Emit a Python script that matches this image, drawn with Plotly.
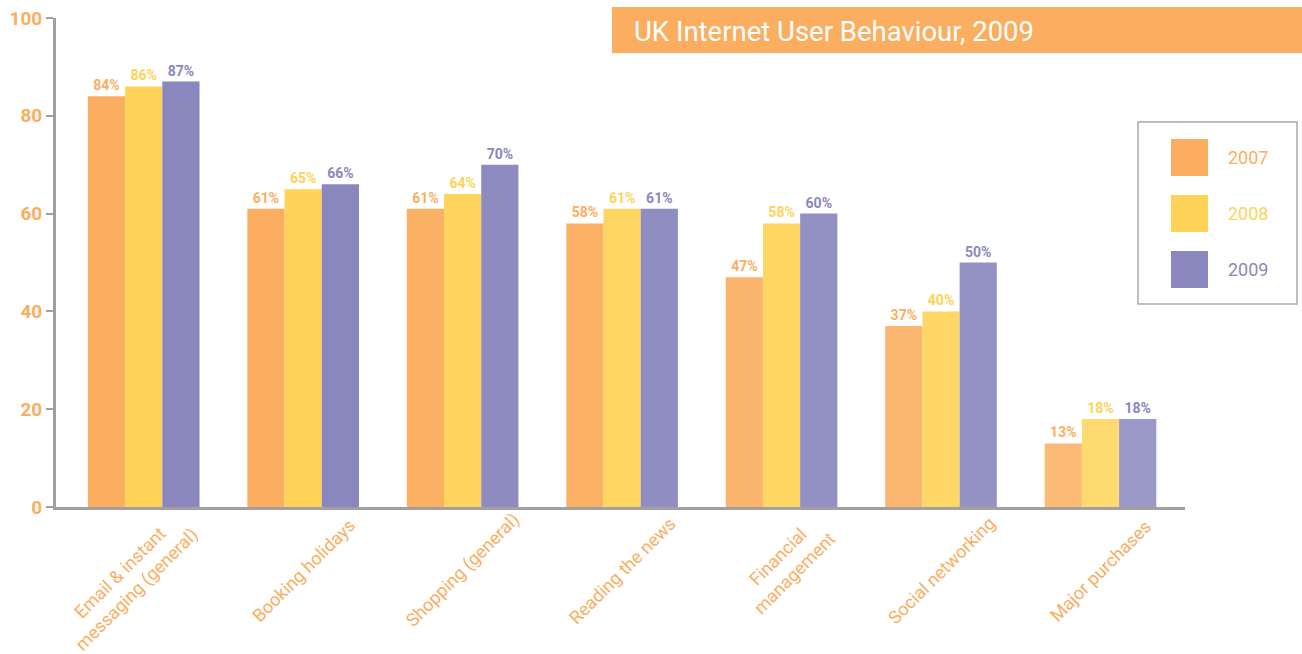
import plotly.graph_objects as go

categories = ["Email & instant<br>messaging (general)", "Booking holidays", "Shopping (general)",
              "Reading the news", "Financial<br>management", "Social networking", "Major purchases"]
years = ["2007", "2008", "2009"]
v2007 = [84, 61, 61, 58, 47, 37, 13]
v2008 = [86, 65, 64, 61, 58, 40, 18]
v2009 = [87, 66, 70, 61, 60, 50, 18]
colors = ["#FBAE5F", "#FED357", "#8A87BE"]
fade = [1.0, 1.0, 0.97, 0.95, 0.92, 0.9, 0.85]

FONT = "Roboto"
fig = go.Figure()
for name, vals, col in zip(years, [v2007, v2008, v2009], colors):
    fig.add_trace(go.Bar(
        x=list(range(len(categories))), y=vals, name=name,
        marker=dict(color=col, opacity=fade, line=dict(width=0)),
        texttemplate="%{y}%", textposition="outside", cliponaxis=False,
        textfont=dict(family=FONT, size=14, color=col, weight="bold"),
    ))

fig.update_layout(
    width=1302, height=654,
    margin=dict(l=56, r=117, t=18, b=147),
    plot_bgcolor="white", paper_bgcolor="white",
    barmode="group", bargap=0.30, bargroupgap=0,
    showlegend=False,
    xaxis=dict(range=[-0.55, 6.53], tickmode="array", tickvals=list(range(len(categories))),
               showticklabels=False, showgrid=False, zeroline=False,
               showline=True, linecolor="#A0A0A0", linewidth=3, ticks="", automargin=False),
    yaxis=dict(range=[0, 100], tickvals=[0, 20, 40, 60, 80, 100], showgrid=False, zeroline=False,
               showline=True, linecolor="#A0A0A0", linewidth=3, ticks="outside", ticklen=7,
               tickcolor="#A0A0A0", tickwidth=2, automargin=False,
               tickfont=dict(family=FONT, size=19, color="#FBAE5F", weight="bold")),
)

# Category labels, rotated and centred under each group
for i, cat in enumerate(categories):
    multi = "<br>" in cat
    fig.add_annotation(text=cat, xref="x", yref="paper", x=i, y=0,
                       xshift=-16 if i == 0 else (4 if multi else 0),
                       yshift=-(74 if i == 0 else (58 if multi else 63)),
                       textangle=-45, xanchor="center", yanchor="middle", align="center",
                       showarrow=False, font=dict(family=FONT, size=18, color="#FBAE5F"))

# Title banner
fig.add_shape(type="rect", xref="paper", yref="paper", x0=(612-56)/1129, x1=(1302-56)/1129,
              y0=(654-147-53)/489, y1=(654-147-7)/489, fillcolor="#FBAE5F", line=dict(width=0), layer="below")
fig.add_annotation(text="UK Internet User Behaviour, 2009", xref="paper", yref="paper",
                   x=(632-56)/1129, y=(654-147-31)/489, xanchor="left", yanchor="middle", showarrow=False,
                   font=dict(family=FONT, size=27.5, color="white"))

# Legend box
fig.add_shape(type="rect", xref="paper", yref="paper", x0=(1138-56)/1129, x1=(1297-56)/1129,
              y0=(507-304)/489, y1=(507-122)/489, line=dict(color="#AAAAAA", width=1.5), fillcolor="white")
for i, (name, col) in enumerate(zip(years, colors)):
    top = 139 + i * 56
    fig.add_shape(type="rect", xref="paper", yref="paper", x0=(1171-56)/1129, x1=(1208-56)/1129,
                  y0=(507-top-37)/489, y1=(507-top)/489, fillcolor=col, line=dict(width=0))
    fig.add_annotation(text=name, xref="paper", yref="paper", x=(1226-56)/1129, y=(507-top-18.5)/489,
                       xanchor="left", yanchor="middle", showarrow=False,
                       font=dict(family=FONT, size=18, color=col))

fig.write_html("out.html")
